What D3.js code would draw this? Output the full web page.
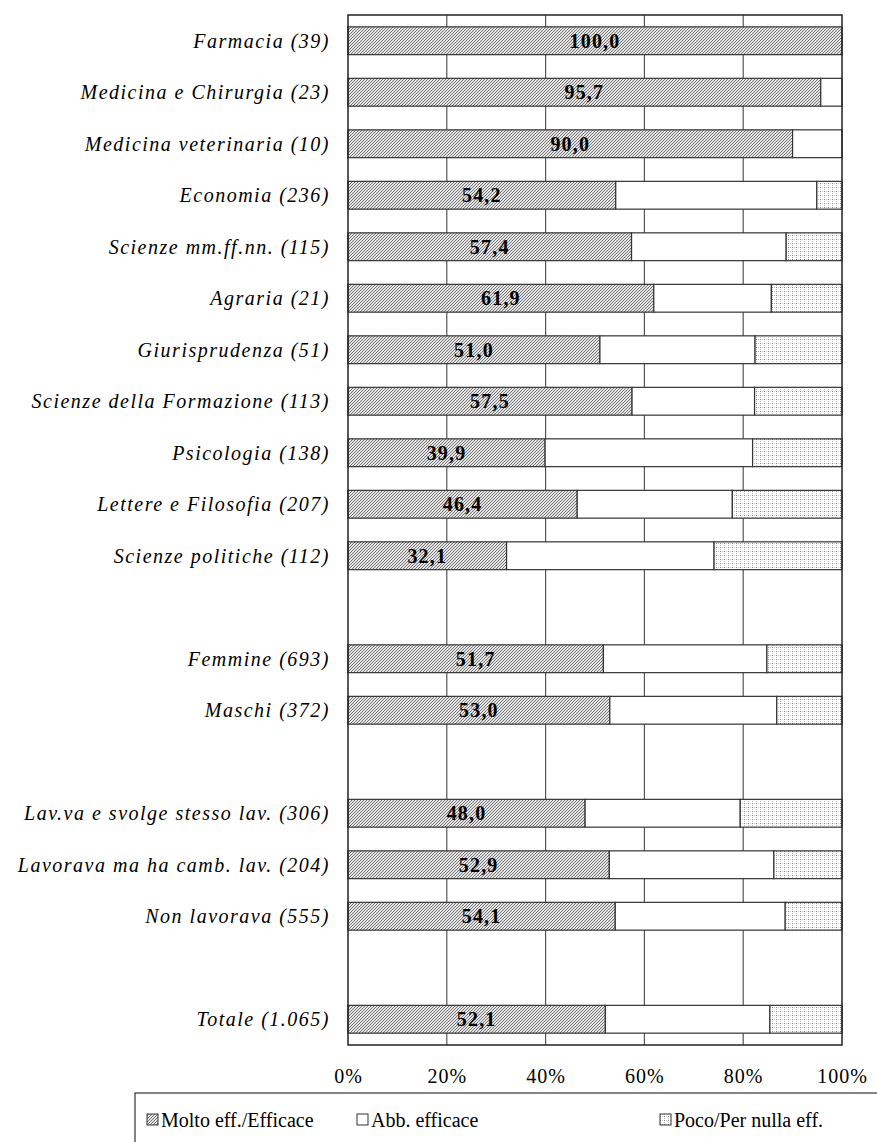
<!DOCTYPE html>
<html>
<head>
<meta charset="utf-8">
<script src="https://cdn.jsdelivr.net/npm/d3@7"></script>
<style>
  body { margin: 0; background: #fff; }
  text { font-family: "Liberation Serif", "Times New Roman", Times; fill: #000; }
  .cat-label { font-style: italic; font-size: 20px; letter-spacing: 1.5px; }
  .val-label { font-weight: bold; font-size: 20px; letter-spacing: 1.2px; }
  .tick text { font-size: 20px; letter-spacing: 1px; }
  .legend text { font-size: 20px; }
</style>
</head>
<body>
<div id="chart"></div>
<script>
const width = 877, height = 1142;
const margin = { top: 15, left: 348, right: 35, bottom: 97 };

// one entry per row, "" marks an empty spacer row
const categories = [
    'Farmacia (39)', 'Medicina e Chirurgia (23)', 'Medicina veterinaria (10)',
    'Economia (236)', 'Scienze mm.ff.nn. (115)', 'Agraria (21)',
    'Giurisprudenza (51)', 'Scienze della Formazione (113)', 'Psicologia (138)',
    'Lettere e Filosofia (207)', 'Scienze politiche (112)', '',
    'Femmine (693)', 'Maschi (372)', '',
    'Lav.va e svolge stesso lav. (306)', 'Lavorava ma ha camb. lav. (204)', 'Non lavorava (555)', '',
    'Totale (1.065)'
];
const molto = [100.0, 95.7, 90.0, 54.2, 57.4, 61.9, 51.0, 57.5, 39.9, 46.4, 32.1, null, 51.7, 53.0, null, 48.0, 52.9, 54.1, null, 52.1];
const abb   = [0.0, 4.3, 10.0, 40.7, 31.3, 23.8, 31.4, 24.8, 42.0, 31.4, 42.0, null, 33.1, 33.8, null, 31.4, 33.3, 34.4, null, 33.3];
const poco  = [0.0, 0.0, 0.0, 5.1, 11.3, 14.3, 17.6, 17.7, 18.1, 22.2, 25.9, null, 15.2, 13.2, null, 20.6, 13.8, 11.5, null, 14.6];

const seriesKeys = ['molto', 'abb', 'poco'];
const seriesNames = ['Molto eff./Efficace', 'Abb. efficace', 'Poco/Per nulla eff.'];
const xTicks = [0, 20, 40, 60, 80, 100];

const innerW = width - margin.left - margin.right;
const innerH = height - margin.top - margin.bottom;

const rows = categories.map((c, i) => ({ idx: i, label: c, molto: molto[i], abb: abb[i], poco: poco[i] }));
const dataRows = rows.filter(d => d.molto !== null);

const xScale = d3.scaleLinear().domain([0, 100]).range([0, innerW]);
const yScale = d3.scaleBand().domain(rows.map(d => d.idx)).range([0, innerH])
    .paddingInner(0.46).paddingOuter(0.23);

const svg = d3.select('#chart').append('svg')
    .attr('width', width)
    .attr('height', height);

// fill patterns
const defs = svg.append('defs');
const pMolto = defs.append('pattern').attr('id', 'pat-molto')
    .attr('patternUnits', 'userSpaceOnUse').attr('width', 3).attr('height', 3);
pMolto.append('rect').attr('width', 3).attr('height', 3).attr('fill', '#e4e4e4');
pMolto.append('path').attr('d', 'M0,3 L3,0 M-1,1 L1,-1 M2,4 L4,2')
    .attr('stroke', '#6a6a6a').attr('stroke-width', 0.9);

const pPoco = defs.append('pattern').attr('id', 'pat-poco')
    .attr('patternUnits', 'userSpaceOnUse').attr('width', 4).attr('height', 4);
pPoco.append('rect').attr('width', 4).attr('height', 4).attr('fill', '#fff');
pPoco.append('rect').attr('x', 0).attr('y', 0).attr('width', 1).attr('height', 1).attr('fill', '#8a8a8a');
pPoco.append('rect').attr('x', 2).attr('y', 0).attr('width', 1).attr('height', 1).attr('fill', '#c4c4c4');
pPoco.append('rect').attr('x', 0).attr('y', 2).attr('width', 1).attr('height', 1).attr('fill', '#c4c4c4');

const fills = { molto: 'url(#pat-molto)', abb: '#fff', poco: 'url(#pat-poco)' };

const g = svg.append('g').attr('transform', `translate(${margin.left},${margin.top})`);

// vertical gridlines
g.selectAll('.grid')
    .data(xTicks.filter(t => t > 0 && t < 100))
    .enter().append('line')
    .attr('class', 'grid')
    .attr('x1', d => xScale(d)).attr('x2', d => xScale(d))
    .attr('y1', 0).attr('y2', innerH)
    .attr('stroke', '#555').attr('stroke-width', 1.2);

// stacked bars
const stacked = d3.stack().keys(seriesKeys)(dataRows);
stacked.forEach(layer => {
    g.selectAll('.bar-' + layer.key)
        .data(layer.filter(d => d[1] - d[0] > 0))
        .enter().append('rect')
        .attr('class', 'bar-' + layer.key)
        .attr('x', d => xScale(d[0]))
        .attr('width', d => xScale(d[1]) - xScale(d[0]))
        .attr('y', d => yScale(d.data.idx))
        .attr('height', yScale.bandwidth())
        .attr('fill', fills[layer.key])
        .attr('stroke', '#333')
        .attr('stroke-width', 1.2);
});

// plot frame
g.append('rect')
    .attr('x', 0).attr('y', 0)
    .attr('width', innerW).attr('height', innerH)
    .attr('fill', 'none').attr('stroke', '#222').attr('stroke-width', 1.5);

// value labels
g.selectAll('.val-label')
    .data(dataRows)
    .enter().append('text')
    .attr('class', 'val-label')
    .attr('x', d => xScale(d.molto / 2))
    .attr('y', d => yScale(d.idx) + yScale.bandwidth() / 2)
    .attr('dy', '0.35em')
    .attr('text-anchor', 'middle')
    .text(d => d.molto.toFixed(1).replace('.', ','));

// category labels
g.selectAll('.cat-label')
    .data(dataRows)
    .enter().append('text')
    .attr('class', 'cat-label')
    .attr('x', -18)
    .attr('y', d => yScale(d.idx) + yScale.bandwidth() / 2)
    .attr('dy', '0.35em')
    .attr('text-anchor', 'end')
    .text(d => d.label);

// x axis
const xAxis = g.append('g')
    .attr('transform', `translate(0,${innerH})`)
    .call(d3.axisBottom(xScale).tickValues(xTicks).tickSize(0).tickPadding(24).tickFormat(d => d + '%'));
xAxis.select('.domain').remove();
xAxis.attr('font-family', null).attr('font-size', null);

// legend
const legend = svg.append('g').attr('class', 'legend');
legend.append('rect')
    .attr('x', 135).attr('y', 1093)
    .attr('width', 800).attr('height', 100)
    .attr('fill', 'none').attr('stroke', '#333').attr('stroke-width', 1.2);

const legendX = [147, 357, 660];
seriesKeys.forEach((k, i) => {
    legend.append('rect')
        .attr('x', legendX[i]).attr('y', 1114)
        .attr('width', 11).attr('height', 11)
        .attr('fill', fills[k]).attr('stroke', '#333').attr('stroke-width', 1);
    legend.append('text')
        .attr('x', legendX[i] + 14).attr('y', 1120)
        .attr('dy', '0.35em')
        .text(seriesNames[i]);
});
</script>
</body>
</html>
